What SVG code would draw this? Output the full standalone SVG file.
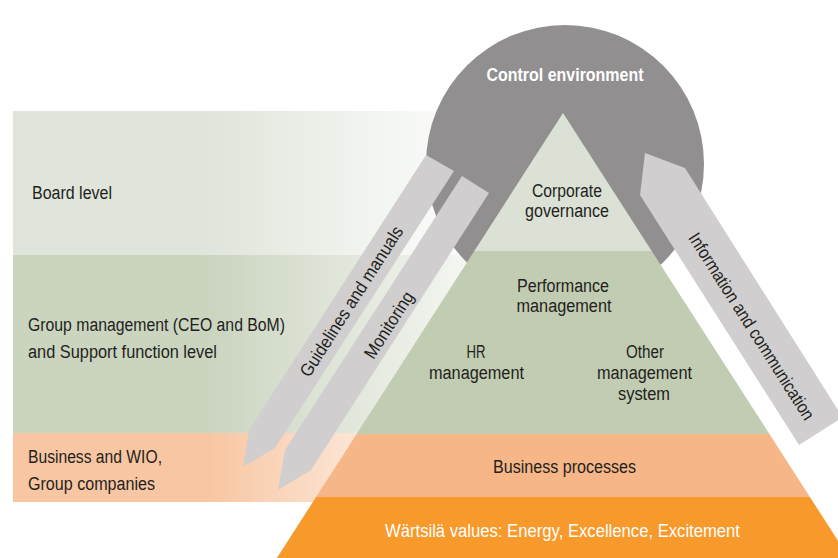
<svg xmlns="http://www.w3.org/2000/svg" width="838" height="558" viewBox="0 0 838 558">
<defs>
<linearGradient id="g1" gradientUnits="userSpaceOnUse" x1="13" y1="0" x2="490" y2="0">
<stop offset="0" stop-color="#dfe5da" stop-opacity="1"/>
<stop offset="0.4" stop-color="#dfe5da" stop-opacity="1"/>
<stop offset="1" stop-color="#dfe5da" stop-opacity="0"/>
</linearGradient>
<linearGradient id="g2" gradientUnits="userSpaceOnUse" x1="13" y1="0" x2="500" y2="0">
<stop offset="0" stop-color="#cbd4bf" stop-opacity="1"/>
<stop offset="0.4" stop-color="#cbd4bf" stop-opacity="1"/>
<stop offset="1" stop-color="#cbd4bf" stop-opacity="0.1"/>
</linearGradient>
<linearGradient id="g3" gradientUnits="userSpaceOnUse" x1="13" y1="0" x2="450" y2="0">
<stop offset="0" stop-color="#f8c6a2" stop-opacity="1"/>
<stop offset="0.45" stop-color="#f8c6a2" stop-opacity="1"/>
<stop offset="1" stop-color="#f8c6a2" stop-opacity="0.1"/>
</linearGradient>
</defs>
<style>
text{font-family:"Liberation Sans Narrow","Liberation Sans",Arial,sans-serif;font-size:18px;fill:#231f20}
.w{fill:#ffffff}
.b{font-weight:bold}
.c{text-anchor:middle}
.arrow{fill:#d0cecf}
</style>
<g id="bands">
<g id="board-level"><rect x="13" y="111" width="507" height="144" fill="url(#g1)"/><text x="32" y="199" textLength="80" lengthAdjust="spacingAndGlyphs">Board level</text></g>
<g id="group-management"><rect x="13" y="255" width="507" height="178" fill="url(#g2)"/><text x="28" y="331" textLength="257" lengthAdjust="spacingAndGlyphs">Group management (CEO and BoM)</text><text x="28" y="358" textLength="189" lengthAdjust="spacingAndGlyphs">and Support function level</text></g>
<g id="business-level"><rect x="13" y="433" width="507" height="69" fill="url(#g3)"/><text x="28" y="463" textLength="134" lengthAdjust="spacingAndGlyphs">Business and WIO,</text><text x="28" y="490" textLength="127" lengthAdjust="spacingAndGlyphs">Group companies</text></g>
</g>
<g id="control-environment"><circle cx="565" cy="164" r="139" fill="#918f90"/><text class="w b c" x="565" y="81" textLength="157" lengthAdjust="spacingAndGlyphs">Control environment</text></g>
<g id="pyramid">
<g id="corporate-governance"><polygon points="563,113 651.7,251 474.3,251" fill="#dbe1d4"/><text class="c" x="567" y="197" textLength="70" lengthAdjust="spacingAndGlyphs">Corporate</text><text class="c" x="567" y="217" textLength="84" lengthAdjust="spacingAndGlyphs">governance</text></g>
<g id="management-layer"><polygon points="474.3,251 651.7,251 769.4,434 356.6,434" fill="#c2ccb2"/>
<text class="c" x="563" y="292" textLength="92" lengthAdjust="spacingAndGlyphs">Performance</text><text class="c" x="564" y="312" textLength="95" lengthAdjust="spacingAndGlyphs">management</text>
<text class="c" x="476" y="358" textLength="19" lengthAdjust="spacingAndGlyphs">HR</text><text class="c" x="476.5" y="379" textLength="95" lengthAdjust="spacingAndGlyphs">management</text>
<text class="c" x="645" y="358" textLength="38" lengthAdjust="spacingAndGlyphs">Other</text><text class="c" x="644.5" y="379" textLength="95" lengthAdjust="spacingAndGlyphs">management</text><text class="c" x="644" y="400" textLength="52" lengthAdjust="spacingAndGlyphs">system</text></g>
<g id="business-processes"><polygon points="356.6,434 769.4,434 809.9,497 316.1,497" fill="#f6b687"/><text class="c" x="564.5" y="473" textLength="143" lengthAdjust="spacingAndGlyphs">Business processes</text></g>
<g id="values"><polygon points="316.1,497 809.9,497 849.1,558 276.9,558" fill="#f7992b"/><text class="w c" x="562.5" y="537" textLength="355" lengthAdjust="spacingAndGlyphs">Wärtsilä values: Energy, Excellence, Excitement</text></g>
</g>
<g id="connectors">
<g id="guidelines"><polygon class="arrow" points="426,155 454,171 275,448 243,467 249,430"/><text class="c" transform="translate(351.5,301.5) rotate(-57.3)" y="6" textLength="175" lengthAdjust="spacingAndGlyphs">Guidelines and manuals</text></g>
<g id="monitoring"><polygon class="arrow" points="462,176 489,193 311,470 278,490 285,450"/><text class="c" transform="translate(389,325) rotate(-57.3)" y="6" textLength="76" lengthAdjust="spacingAndGlyphs">Monitoring</text></g>
<g id="information"><polygon class="arrow" points="645,153 685,168 842.6,417.3 799,445 640,195"/><text class="c" transform="translate(751.5,326.5) rotate(57.5)" y="6" textLength="218" lengthAdjust="spacingAndGlyphs">Information and communication</text></g>
</g>
</svg>
